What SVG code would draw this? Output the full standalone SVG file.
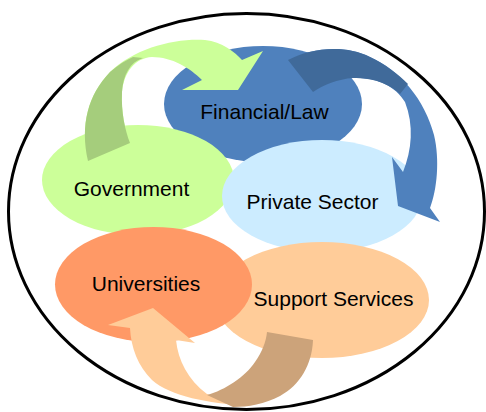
<svg xmlns="http://www.w3.org/2000/svg" width="486" height="412" viewBox="0 0 486 412">
<style>
.lbl{font-family:"Liberation Sans",Arial,sans-serif;font-size:21px;fill:#000;text-anchor:middle}
</style>
<rect width="486" height="412" fill="#fff"/>
<ellipse id="frame" cx="246.5" cy="211.5" rx="238" ry="198" fill="none" stroke="#000" stroke-width="3"/>
<g id="financial">
<ellipse cx="263" cy="104" rx="99" ry="58" fill="#4F81BD"/>
<text class="lbl" x="264.5" y="119">Financial/Law</text>
</g>
<g id="government">
<ellipse cx="138" cy="180" rx="96" ry="55" fill="#CCFF99"/>
<text class="lbl" x="131.5" y="196">Government</text>
</g>
<g id="private">
<ellipse cx="322" cy="196" rx="100" ry="56" fill="#CCECFF"/>
<text class="lbl" x="312.5" y="209">Private Sector</text>
</g>
<g id="support">
<ellipse cx="322" cy="300" rx="107" ry="58" fill="#FFCC99"/>
<text class="lbl" x="333.5" y="306">Support Services</text>
</g>
<g id="universities">
<ellipse cx="153.5" cy="284.5" rx="98.5" ry="57.5" fill="#FF9966"/>
<text class="lbl" x="146" y="291">Universities</text>
</g>
<g id="connectors">
<path d="M88,161 C80,125 88,95 110,72 C135,48 175,38 205,40 C222,42 235,52 242,60 L263,51 L238,90 L182,90 L202,80 C190,68 172,57 152,57 C135,58 124,72 122,92 C121,112 125,130 130,143 Z" fill="#CCFF99"/>
<path d="M88,161 C80,125 88,95 110,72 C118,65 126,60 133,57 L143,58 C130,62 123,75 122,92 C121,112 125,130 130,143 Z" fill="#A5CD7C"/>
<path d="M288,60 C310,48 345,44 370,57 C400,70 425,100 434,135 C440,160 437,190 430,208 L440,222 L398,206 L392,157 L403,172 C412,150 414,125 405,102 C395,85 375,77 353,78 C338,79 323,85 313,92 Z" fill="#4F81BD"/>
<path d="M288,60 C310,48 345,44 370,57 C385,64 398,74 408,84 L400,94 C392,86 375,77 353,78 C338,79 323,85 313,92 Z" fill="#406A9A"/>
<path d="M108,325 L153,308 L195,343 L176,340 C178,360 188,380 207,394 L245,405 C210,404 170,396 152,380 C138,366 131,348 130,328 Z" fill="#FFCC99"/>
<path d="M267,332 L313,340 C312,365 300,385 280,396 C265,404 248,407 233,407 L207,395 C225,390 245,377 255,362 C262,352 266,342 267,332 Z" fill="#CCA37A"/>
</g>
</svg>
